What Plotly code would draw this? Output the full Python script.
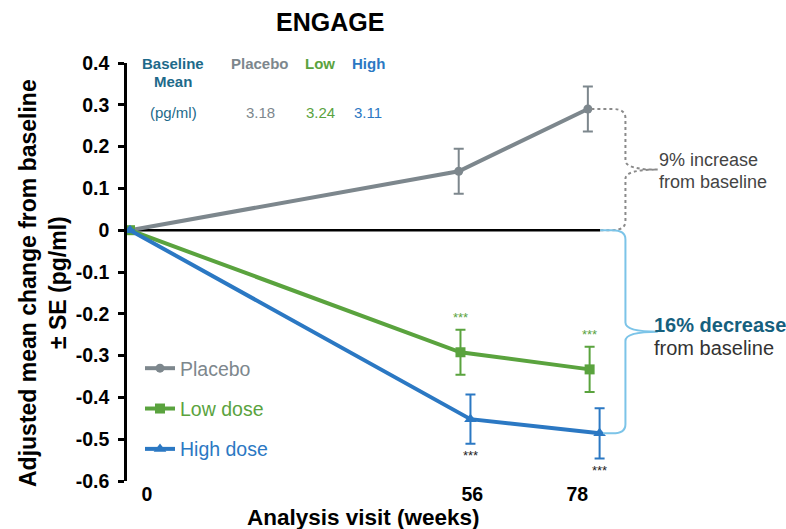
import plotly.graph_objects as go

# --- data -------------------------------------------------------------
visits = [0, 56, 78]                      # analysis visit (weeks)
series_names = ["Placebo", "Low dose", "High dose"]
placebo_mean = [0.0, 0.141, 0.290]
placebo_se = [0.0, 0.054, 0.054]
low_mean = [0.0, -0.292, -0.333]
low_se = [0.0, 0.054, 0.054]
high_mean = [0.0, -0.452, -0.486]
high_se = [0.0, 0.059, 0.060]

x_tick_labels = ["0", "56", "78"]
y_tick_values = [0.4, 0.3, 0.2, 0.1, 0.0, -0.1, -0.2, -0.3, -0.4, -0.5, -0.6]
y_tick_labels = ["0.4", "0.3", "0.2", "0.1", "0", "-0.1", "-0.2", "-0.3", "-0.4", "-0.5", "-0.6"]

baseline_header = ["Placebo", "Low", "High"]
baseline_means = ["3.18", "3.24", "3.11"]

# --- style ------------------------------------------------------------
GRAY = "#7d878d"
GREEN = "#5aa33e"
BLUE = "#2b78c3"
LIGHT_BLUE = "#7cc4e8"
TEAL = "#1d6a8a"
FONT = "Liberation Sans, Arial, sans-serif"

W, H = 786, 529
ML, MR, MT, MB = 127, 0, 63, 48
PW, PH = W - ML - MR, H - MT - MB
PX_PER_WEEK = 5.87
X_MIN = -3 / PX_PER_WEEK
X_MAX = X_MIN + PW / PX_PER_WEEK

# small horizontal dodge so the error bars do not overlap
dodge = {"Placebo": 0.0, "Low dose": 0.3, "High dose": 2.0}
label_nudge = [2.9, 2.3, -1.8]


def px_x(px):
    return (px - ML) / PW


def px_y(py):
    return (H - MB - py) / PH


def dodged(name):
    return [v + (dodge[name] if v > 0 else 0) for v in visits]


def note(cx, cy, text, size, color, xanchor="center", **kw):
    return dict(x=px_x(cx), y=px_y(cy), xref="paper", yref="paper",
                xanchor=xanchor, yanchor="middle", text=text, showarrow=False,
                font=dict(family=FONT, size=size, color=color), **kw)


fig = go.Figure()

specs = [
    ("Placebo", placebo_mean, placebo_se, GRAY, "circle", 9),
    ("Low dose", low_mean, low_se, GREEN, "square", 10),
    ("High dose", high_mean, high_se, BLUE, "triangle-up", 11),
]
for name, mean, se, color, symbol, msize in specs:
    fig.add_trace(go.Scatter(
        x=dodged(name), y=mean,
        mode="lines+markers",
        name=f'<span style="color:{color}">{name}</span>',
        legendgroup=name,
        line=dict(color=color, width=4),
        marker=dict(symbol=symbol, size=msize, color=color),
        error_y=dict(type="data", array=se, visible=True,
                     color=color, thickness=2, width=5),
    ))

# zero reference line, ending where the brackets begin
fig.add_shape(type="line", xref="x", yref="y", x0=X_MIN, x1=80.1, y0=0, y1=0,
              line=dict(color="black", width=2.5), layer="below")


def brace(x_start, y_top, y_bot, x_end, color, dash):
    xb, xt = 84.4, 89.9
    ym = (y_top + y_bot) / 2
    r_x, r_y = 2.2, 0.022
    path = (f"M {x_start},{y_top} L {xb - r_x},{y_top} "
            f"Q {xb},{y_top} {xb},{y_top - r_y} "
            f"L {xb},{ym + r_y} Q {xb},{ym} {xt},{ym} "
            f"Q {xb},{ym} {xb},{ym - r_y} "
            f"L {xb},{y_bot + r_y} Q {xb},{y_bot} {xb - r_x},{y_bot} "
            f"L {x_end},{y_bot}")
    fig.add_shape(type="path", xref="x", yref="y", path=path,
                  line=dict(color=color, width=2, dash=dash))


p_last_x = dodged("Placebo")[-1]
h_last_x = dodged("High dose")[-1]
brace(p_last_x + 0.6, placebo_mean[-1], 0.0, 80.1, "#8a8a8a", "dot")
brace(80.1, 0.0, high_mean[-1], h_last_x + 0.6, LIGHT_BLUE, "solid")

annotations = []

# significance markers
for x, m, s in zip(dodged("Low dose")[1:], low_mean[1:], low_se[1:]):
    annotations.append(dict(x=x, y=m + s, xref="x", yref="y", text="***",
                            showarrow=False, yshift=12,
                            xanchor="center", yanchor="middle",
                            font=dict(family=FONT, size=13, color=GREEN)))
for x, m, s in zip(dodged("High dose")[1:], high_mean[1:], high_se[1:]):
    annotations.append(dict(x=x, y=m - s, xref="x", yref="y", text="***",
                            showarrow=False, yshift=-12,
                            xanchor="center", yanchor="middle",
                            font=dict(family=FONT, size=13, color="#222222")))

# baseline mean table
annotations.append(note(173, 63, "<b>Baseline</b>", 15, TEAL))
annotations.append(note(173, 82, "<b>Mean</b>", 15, TEAL))
annotations.append(note(173, 113, "(pg/ml)", 15, TEAL))
for head, val, cx, color in zip(baseline_header, baseline_means,
                                [260, 320, 368], [GRAY, GREEN, BLUE]):
    annotations.append(note(cx, 63, f"<b>{head}</b>", 15, color))
    annotations.append(note(cx, 113, val, 15, color))

# bracket captions
annotations.append(note(657, 160, "9% increase", 18, "#444444", xanchor="left"))
annotations.append(note(657, 182, "from baseline", 18, "#444444", xanchor="left"))
annotations.append(note(652, 325, "<b>16% decrease</b>", 20, "#16607e", xanchor="left"))
annotations.append(note(652, 348, "from baseline", 20, "#333333", xanchor="left"))

# title and axis titles
annotations.append(note(330, 22, "<b>ENGAGE</b>", 25, "black"))
annotations.append(note(363, 517, "<b>Analysis visit (weeks)</b>", 22.5, "black"))
annotations.append(note(28, 283, "<b>Adjusted mean change from baseline</b>", 23,
                        "black", textangle=-90))
annotations.append(note(58, 283, "<b>± SE (pg/ml)</b>", 23, "black", textangle=-90))

fig.update_layout(
    width=W, height=H,
    margin=dict(l=ML, r=MR, t=MT, b=MB),
    paper_bgcolor="white", plot_bgcolor="white",
    font=dict(family=FONT, color="black"),
    showlegend=True,
    legend=dict(x=px_x(140), y=px_y(349), xanchor="left", yanchor="top",
                bgcolor="rgba(0,0,0,0)", tracegroupgap=12,
                font=dict(family=FONT, size=19.5), itemwidth=30),
    annotations=annotations,
    xaxis=dict(range=[X_MIN, X_MAX], showgrid=False, zeroline=False,
               showline=False, ticks="", ticklabelstandoff=-1,
               tickvals=[v + n for v, n in zip(visits, label_nudge)],
               ticktext=[f"<b>{t}</b>" for t in x_tick_labels],
               tickfont=dict(family=FONT, size=19.5, color="black")),
    yaxis=dict(range=[-0.6, 0.4], showgrid=False, zeroline=False,
               showline=True, linecolor="black", linewidth=2.5,
               ticks="outside", ticklen=6, tickwidth=2.5, tickcolor="black",
               ticklabelstandoff=5,
               tickvals=y_tick_values,
               ticktext=[f"<b>{t}</b>" for t in y_tick_labels],
               tickfont=dict(family=FONT, size=19.5, color="black")),
)

fig.write_html("out.html")
